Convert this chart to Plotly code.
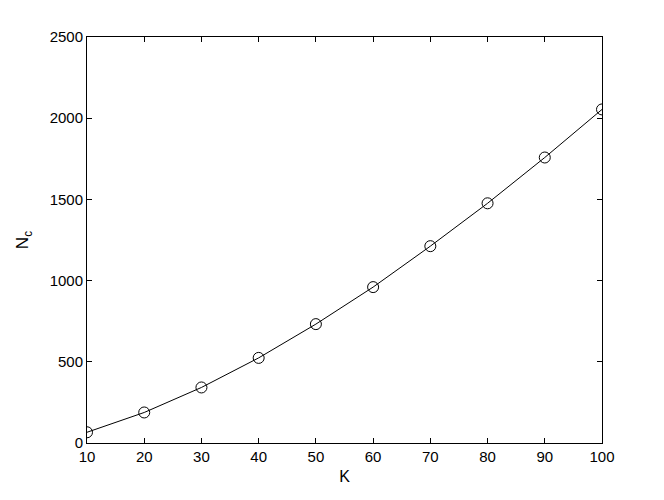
import plotly.graph_objects as go

K = [10, 20, 30, 40, 50, 60, 70, 80, 90, 100]
Nc = [66, 188, 342, 524, 732, 960, 1212, 1476, 1758, 2054]

font_name = "Liberation Sans, Arial"

fig = go.Figure()
fig.add_trace(go.Scatter(
    x=K, y=Nc, mode="lines+markers",
    line=dict(color="black", width=1),
    marker=dict(symbol="circle-open", size=11, color="black", line=dict(width=1)),
    showlegend=False,
))

axis_style = dict(
    showline=True, linecolor="black", linewidth=1, mirror="ticks",
    ticks="inside", ticklen=5, tickcolor="black",
    showgrid=False, zeroline=False,
    tickfont=dict(family=font_name, size=15, color="black"),
)
fig.update_xaxes(range=[10, 100], dtick=10, title=dict(text="K", standoff=6,
                 font=dict(family=font_name, size=16, color="black")), **axis_style)
fig.update_yaxes(range=[0, 2500], dtick=500, title=dict(text="N<sub>c</sub>", standoff=16,
                 font=dict(family=font_name, size=17, color="black")), **axis_style)
fig.update_layout(
    width=664, height=500,
    margin=dict(l=79, r=70, t=29, b=65),
    plot_bgcolor="white", paper_bgcolor="white",
)
fig.write_html("out.html")
